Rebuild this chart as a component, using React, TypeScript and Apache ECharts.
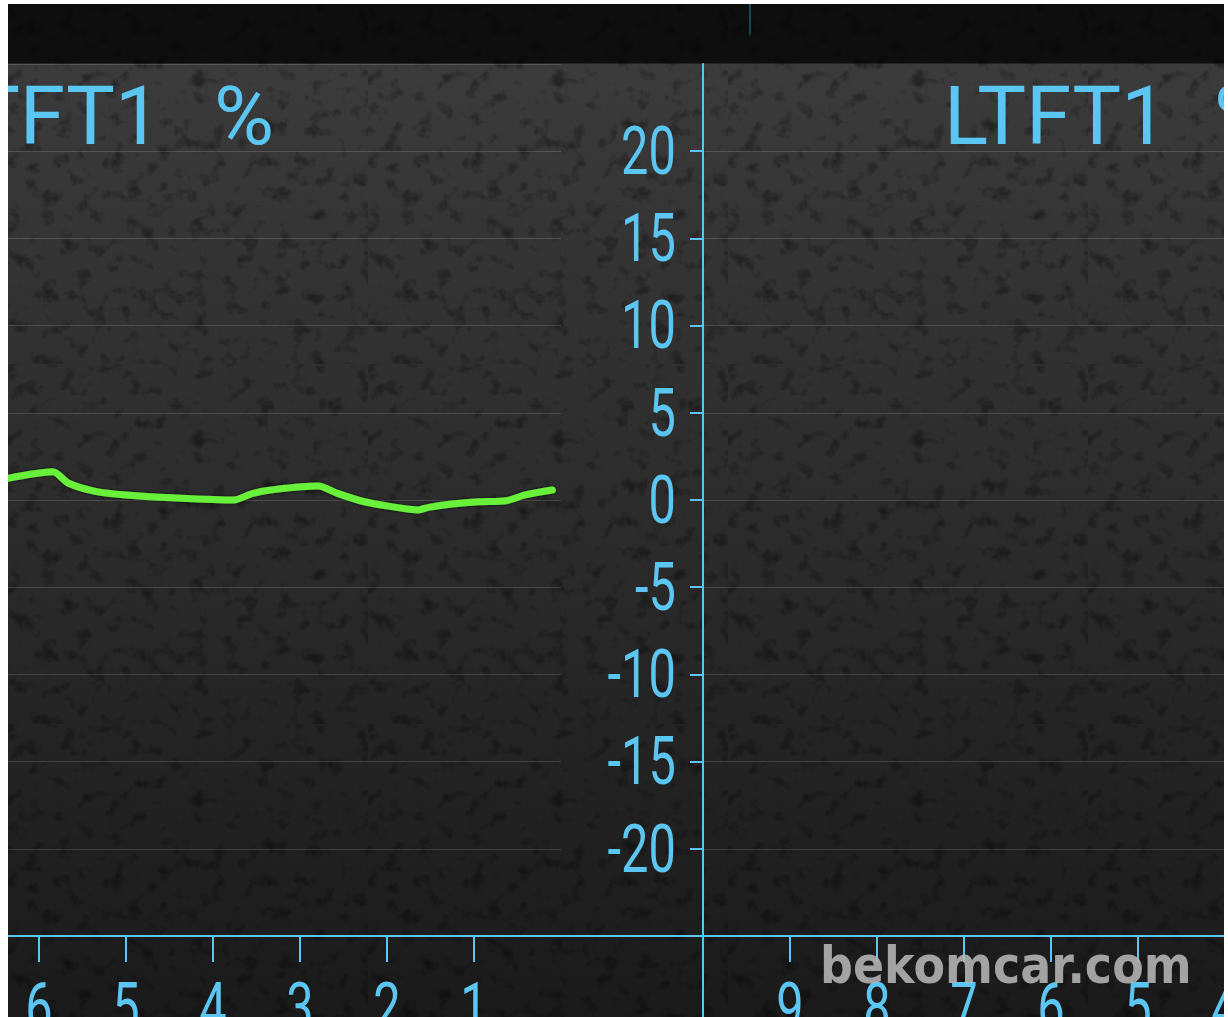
import React, { useEffect, useRef } from "react";
import * as echarts from "echarts";

// ---- data ----
const yTickValues = [-20, -15, -10, -5, 0, 5, 10, 15, 20];
const stftTickValues = [1, 2, 3, 4, 5, 6];
const ltftTickValues = [4, 5, 6, 7, 8, 9];
const stftTitle = "STFT1";
const ltftTitle = "LTFT1";
const unitLabel = "%";
const watermark = "bekomcar.com";

const stftTime = [6.36, 5.84, 5.66, 5.34, 5.0, 4.47, 3.76, 3.54, 3.28, 2.79, 2.57, 2.26, 1.95, 1.64, 1.52, 1.25, 0.94, 0.63, 0.41, 0.1];
const stftValues = [1.24, 1.62, 0.96, 0.48, 0.29, 0.13, 0.0, 0.38, 0.61, 0.8, 0.38, -0.1, -0.38, -0.57, -0.42, -0.23, -0.1, -0.04, 0.29, 0.57];
const ltftTime = [9.92, 4.0];
const ltftValues = [1.6, 1.6];

const BLUE = "#5cc6f2";
const GREEN = "#68f03a";
const LABEL_FONT = "66px Roboto, 'Noto Sans', sans-serif";
const LABEL_SCALE_X = 0.74;

const noiseSvg =
  "<svg xmlns='http://www.w3.org/2000/svg' width='360' height='360'>" +
  "<filter id='n'><feTurbulence type='fractalNoise' baseFrequency='0.06' numOctaves='4' seed='11'/>" +
  "<feColorMatrix values='0 0 0 0 0  0 0 0 0 0  0 0 0 0 0  3.2 0 0 0 -1.75'/></filter>" +
  "<rect width='360' height='360' filter='url(#n)' opacity='0.38'/></svg>";

export default function App() {
  const ref = useRef<HTMLDivElement>(null);

  useEffect(() => {
    if (!ref.current) return;
    const chart = echarts.init(ref.current, null, { renderer: "svg" });

    const xAxisCommon = (ticks: number[]) => ({
      type: "value" as const,
      inverse: true,
      axisLine: { show: true, onZero: false, lineStyle: { color: BLUE, width: 2 } },
      axisTick: { show: true, length: 26, customValues: ticks, lineStyle: { color: BLUE, width: 2 } },
      axisLabel: { show: false },
      splitLine: { show: false },
    });

    const yAxisCommon = {
      type: "value" as const,
      min: -25,
      max: 25,
      interval: 5,
      splitLine: { show: true, lineStyle: { color: "rgba(255,255,255,0.14)", width: 1 } },
    };

    chart.setOption({
      animation: false,
      backgroundColor: "transparent",
      grid: [
        { left: 0, top: 60, width: 553, height: 872, containLabel: false, outerBoundsMode: "none" },
        { left: 695, top: 60, width: 522, height: 872, containLabel: false, outerBoundsMode: "none" },
      ],
      xAxis: [
        { gridIndex: 0, min: 0, max: 6.356, ...xAxisCommon(stftTickValues) },
        { gridIndex: 1, min: 4, max: 10, ...xAxisCommon(ltftTickValues) },
      ],
      yAxis: [
        {
          gridIndex: 0,
          ...yAxisCommon,
          axisLine: { show: false, onZero: false },
          axisTick: { show: false },
          axisLabel: { show: false },
        },
        {
          gridIndex: 1,
          ...yAxisCommon,
          position: "left",
          axisLine: { show: true, onZero: false, lineStyle: { color: BLUE, width: 2 } },
          axisTick: { show: true, length: 13, customValues: yTickValues, lineStyle: { color: BLUE, width: 2 } },
          axisLabel: { show: false },
        },
      ],
      series: [
        {
          type: "line",
          xAxisIndex: 0,
          yAxisIndex: 0,
          data: stftTime.map((t, i) => [t, stftValues[i]]),
          showSymbol: false,
          smooth: 0.25,
          lineStyle: { color: GREEN, width: 7, cap: "round", join: "round", shadowColor: "rgba(0,0,0,0.75)", shadowBlur: 3 },
        },
        {
          type: "line",
          xAxisIndex: 1,
          yAxisIndex: 1,
          data: ltftTime.map((t, i) => [t, ltftValues[i]]),
          showSymbol: false,
          lineStyle: { color: GREEN, width: 7, cap: "round", shadowColor: "rgba(0,0,0,0.75)", shadowBlur: 3 },
        },
      ],
    });

    // tick labels placed through the axes' own scales (condensed look via scaleX)
    const labelGraphics: any[] = [];
    yTickValues.forEach((v) => {
      const py = chart.convertToPixel({ yAxisIndex: 1 }, v) as number;
      labelGraphics.push({
        type: "text",
        x: 668,
        y: py,
        scaleX: LABEL_SCALE_X,
        style: { text: String(v), fill: BLUE, font: LABEL_FONT, textAlign: "right", textVerticalAlign: "middle" },
        z: 10,
      });
    });
    stftTickValues.forEach((t) => {
      const px = chart.convertToPixel({ xAxisIndex: 0 }, t) as number;
      labelGraphics.push({
        type: "text",
        x: px,
        y: 1003,
        scaleX: LABEL_SCALE_X,
        style: { text: String(t), fill: BLUE, font: LABEL_FONT, textAlign: "center", textVerticalAlign: "middle" },
        z: 10,
      });
    });
    ltftTickValues.forEach((t) => {
      const px = chart.convertToPixel({ xAxisIndex: 1 }, t) as number;
      labelGraphics.push({
        type: "text",
        x: px,
        y: 1003,
        scaleX: LABEL_SCALE_X,
        style: { text: String(t), fill: BLUE, font: LABEL_FONT, textAlign: "center", textVerticalAlign: "middle" },
        z: 10,
      });
    });

    const TITLE_FONT = "82px Roboto, 'Noto Sans', sans-serif";
    chart.setOption({
      graphic: [
        { type: "line", shape: { x1: 553, y1: 932, x2: 695, y2: 932 }, style: { stroke: BLUE, lineWidth: 2 }, z: 10 },
        { type: "line", shape: { x1: 695, y1: 930, x2: 695, y2: 1013 }, style: { stroke: BLUE, lineWidth: 2 }, z: 10 },
        { type: "line", shape: { x1: 742, y1: 0, x2: 742, y2: 31 }, style: { stroke: "#2f7fa6", lineWidth: 1 }, z: 10 },
        {
          type: "text",
          x: 153,
          y: 112,
          style: { text: stftTitle, fill: BLUE, font: TITLE_FONT, textAlign: "right", textVerticalAlign: "middle" },
          z: 10,
        },
        {
          type: "text",
          x: 206,
          y: 112,
          style: { text: unitLabel, fill: BLUE, font: TITLE_FONT, textAlign: "left", textVerticalAlign: "middle" },
          z: 10,
        },
        {
          type: "text",
          x: 936,
          y: 112,
          style: { text: ltftTitle, fill: BLUE, font: TITLE_FONT, textAlign: "left", textVerticalAlign: "middle" },
          z: 10,
        },
        {
          type: "text",
          x: 1206,
          y: 112,
          style: { text: unitLabel, fill: BLUE, font: TITLE_FONT, textAlign: "left", textVerticalAlign: "middle" },
          z: 10,
        },
        ...labelGraphics,
        {
          type: "text",
          x: 812,
          y: 962,
          scaleY: 1.12,
          style: {
            text: watermark,
            fill: "rgba(182,182,182,0.88)",
            font: "bold 46px 'DejaVu Sans', Verdana, sans-serif",
            textAlign: "left",
            textVerticalAlign: "middle",
          },
          z: 20,
        },
      ],
    });

    return () => chart.dispose();
  }, []);

  const bg =
    `url("data:image/svg+xml,${encodeURIComponent(noiseSvg)}"), ` +
    "linear-gradient(to bottom, #0e0e0e 0px, #0e0e0e 59px, #3b3b3b 60px, #343434 250px, #2c2c2c 500px, #232323 760px, #1a1a1a 1013px)";

  return (
    <div
      ref={ref}
      style={{
        position: "fixed",
        left: 8,
        top: 4,
        width: 1216,
        height: 1013,
        background: bg,
        overflow: "hidden",
      }}
    />
  );
}
